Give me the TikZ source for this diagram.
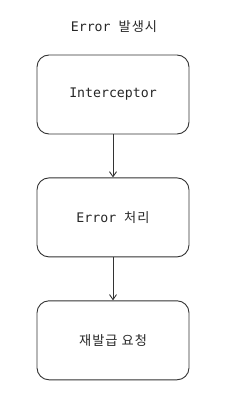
\documentclass[tikz,border=0pt]{standalone}
\usepackage{fontspec}
\setmainfont{DejaVu Sans Mono}
\newfontfamily\kr[LetterSpace=8]{Noto Sans CJK KR}
\usetikzlibrary{arrows.meta,positioning}

\begin{document}
\begin{tikzpicture}[x=1pt, y=1pt, node distance=43pt, every node/.style={font=\fontsize{13.2}{16}\selectfont, text=black!85}, box/.style={draw=black!80, line width=0.9pt, rounded corners=12pt, align=center, minimum height=79pt, minimum width=152pt}, >={Straight Barb[length=5pt,width=7pt]}]
\useasboundingbox (0,0) rectangle (229,-403);
\node (title) at (114,-27) {Error {\kr 발생시}};
\node[box] (icpt) at (113,-94.5) {Interceptor};
\node[box,below=of icpt] (err) {Error {\kr 처리}};
\node[box,below=of err] (reissue) {{\kr 재발급 요청}};
\draw[->, black!80, line width=0.9pt] (icpt)--(err);\draw[->, black!80, line width=0.9pt] (err)--(reissue);
\end{tikzpicture}
\end{document}
